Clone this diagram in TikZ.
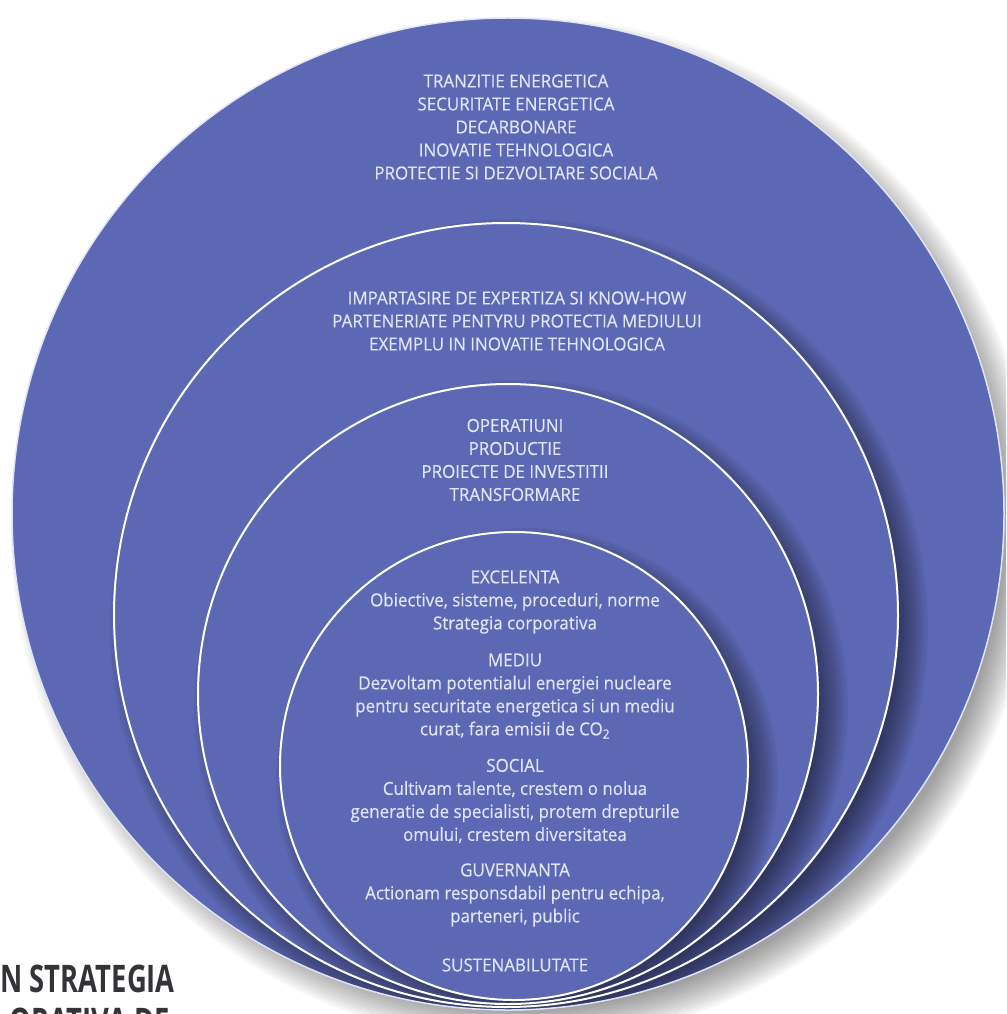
\documentclass[tikz,border=0pt]{standalone}
\usepackage{fontspec}
\setmainfont{Open Sans}[FakeStretch=0.94,FakeBold=0.4]
\newfontfamily\capfont{Open Sans}[FakeStretch=0.72]
\definecolor{disc}{RGB}{93,104,180}
\definecolor{ink}{RGB}{224,228,246}
\definecolor{darkink}{RGB}{52,52,56}
% #1 cx, #2 cy, #3 r, #4 offset, #5 opacity per layer
\newcommand{\softshadow}[5]{%
  \foreach \k in {0,...,11}{%
    \fill[black,opacity=#5] ({#1+#4},{#2+#4}) circle ({#3-16+\k*3});}}
\begin{document}
\begin{tikzpicture}[x=1pt,y=-1pt,
  ring/.style={fill=disc},
  rim/.style={draw=white,line width=2pt},
  lbl/.style={text=ink,font=\fontsize{18}{23}\selectfont,align=center,inner sep=0pt},
  side/.style={text=darkink,font=\capfont\bfseries\fontsize{38}{44}\selectfont,inner sep=0pt,anchor=base east}]
\clip (0,0) rectangle (1006,1014);
\fill[white] (0,0) rectangle (1006,1014);
% outer disc
\softshadow{508}{514}{496}{16}{0.035}
\path[ring] (508,514) circle (496);
\begin{scope}
  \clip (508,514) circle (496);
  \softshadow{506}{615}{392}{13}{0.05}
  \path[ring] (506,615) circle (392);
  \clip (506,615) circle (392);
  \softshadow{508}{694}{310}{13}{0.05}
  \path[ring] (508,694) circle (310);
  \clip (508,694) circle (310);
  \softshadow{514}{766}{234}{13}{0.05}
  \path[ring] (514,766) circle (234);
\end{scope}
\draw[rim,draw=ink,line width=1.5pt] (508,514) circle (496);
\draw[rim] (506,615) circle (392);
\draw[rim] (508,694) circle (310);
\draw[rim] (514,766) circle (234);
% texts
\node[lbl] (t1) at (516,127) {TRANZITIE ENERGETICA\\SECURITATE ENERGETICA\\DECARBONARE\\INOVATIE TEHNOLOGICA\\PROTECTIE SI DEZVOLTARE SOCIALA};
\node[lbl] (t2) at (517,321) {IMPARTASIRE DE EXPERTIZA SI KNOW-HOW\\PARTENERIATE PENTYRU PROTECTIA MEDIULUI\\EXEMPLU IN INOVATIE TEHNOLOGICA};
\node[lbl] (t3) at (515,460) {OPERATIUNI\\PRODUCTIE\\PROIECTE DE INVESTITII\\TRANSFORMARE};
\node[lbl] (ex) at (515,602) {EXCELENTA\\Obiective, sisteme, proceduri, norme\\Strategia corporativa};
\node[lbl] (me) at (515,696) {MEDIU\\Dezvoltam potentialul energiei nucleare\\pentru securitate energetica si un mediu\\curat, fara emisii de CO\textsubscript{2}};
\node[lbl] (so) at (515,801) {SOCIAL\\Cultivam talente, crestem o nolua\\generatie de specialisti, protem drepturile\\omului, crestem diversitatea};
\node[lbl] (gu) at (515,895) {GUVERNANTA\\Actionam responsdabil pentru echipa,\\parteneri, public};
\node[lbl] (su) at (515,965) {SUSTENABILUTATE};
\node[side] (s1) at (175,992) {N STRATEGIA};
\node[side] (s2) at (170,1035) {ORATIVA DE};
\end{tikzpicture}
\end{document}
